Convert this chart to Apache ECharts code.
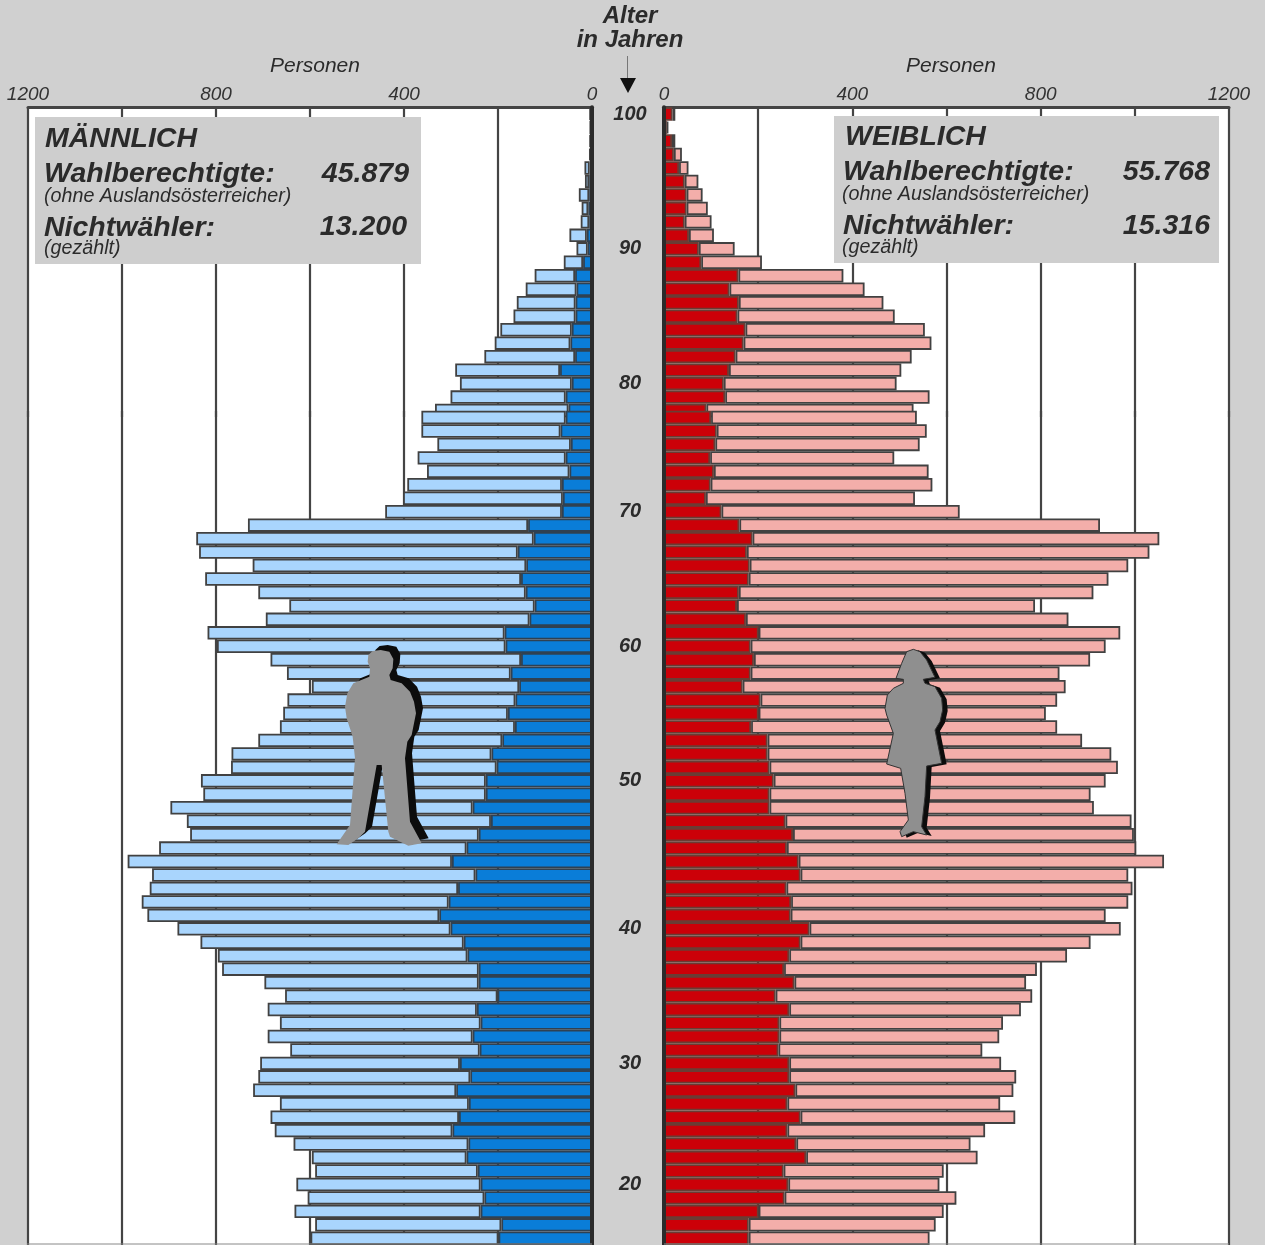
<!DOCTYPE html>
<html>
<head>
<meta charset="utf-8">
<title>Nichtwähler nach Alter</title>
<script src="https://cdn.jsdelivr.net/npm/echarts@6/dist/echarts.min.js"></script>
<style>
html, body { margin: 0; padding: 0; background: #d0d0d0; overflow: hidden; }
#chart { width: 1265px; height: 1245px; }
</style>
</head>
<body>
<div id="chart"></div>
<script>
// rows run from the top of the pyramid down, one row per bar
var maleEligible = [5,4,5,6,16,15,28,22,24,48,33,60,122,141,160,167,195,207,229,291,281,301,334,
	363,363,329,371,351,393,402,440,732,842,836,722,823,710,644,694,818,798,684,649,596,648,657,664,710,767,768,832,827,897,862,
	855,921,988,936,941,958,946,882,833,796,787,697,653,690,664,690,642,706,710,721,664,684,675,635,596,589,629,605,633,589,599];
var maleNonVoters = [3,3,3,3,5,6,6,8,6,11,9,19,36,33,35,35,43,46,36,68,43,56,50,
	56,67,45,56,48,64,62,64,136,124,158,140,151,141,122,133,186,184,151,173,155,163,179,164,191,214,203,226,226,254,215,
	241,267,298,248,285,305,325,301,273,265,241,241,201,245,237,254,239,281,259,289,262,283,297,263,267,243,237,229,237,193,199];
var femaleEligible = [24,9,24,38,52,73,82,93,101,106,150,208,381,426,466,490,554,568,526,504,494,564,530,
	537,558,543,489,562,570,533,628,926,1052,1031,986,944,912,788,859,969,938,905,840,853,835,811,835,888,950,964,938,906,913,993,
	998,1003,1062,986,995,986,938,970,906,856,792,769,782,758,720,712,676,716,748,742,714,746,682,651,666,594,585,621,594,577,564];
var femaleNonVoters = [18,6,17,21,32,44,48,48,44,53,74,79,158,139,159,156,173,169,152,138,127,130,90,
	100,112,109,98,106,99,89,122,160,188,176,182,180,159,155,174,201,184,191,184,167,205,201,185,220,220,224,233,224,224,258,
	274,261,286,290,260,270,269,309,290,266,255,277,237,266,245,245,243,266,266,279,262,290,262,281,302,254,264,256,201,180,180];

var tickRows = [0, 10, 20, 30, 40, 50, 61, 71, 80];
var tickAges = ['100', '90', '80', '70', '60', '50', '40', '30', '20'];

var rowLabels = [];
for (var r = 0; r < maleEligible.length; r++) {
	var t = tickRows.indexOf(r);
	rowLabels.push(t >= 0 ? tickAges[t] : '');
}

// the picture has a splice after the 23rd row, so the rows sit on two grids
var splitRow = 23;
var FONT = '"Liberation Sans", Arial, sans-serif';
var INK = '#2b2b2b';
var LINE = '#444';

var panels = [
	{ left: 28, width: 564, inverse: true, all: maleEligible, dark: maleNonVoters, darkColor: '#0a7dd8', lightColor: '#a9d5fd', darkBorder: '#2f4152', labels: false },
	{ left: 664, width: 565, inverse: false, all: femaleEligible, dark: femaleNonVoters, darkColor: '#cc0008', lightColor: '#f3aeaa', darkBorder: '#6a3c34', labels: true }
];
var bands = [
	{ top: 107.3, height: 310, from: 0, to: splitRow, first: true },
	{ top: 410.8, height: 836, from: splitRow, to: maleEligible.length, first: false }
];

var grids = [], xAxes = [], yAxes = [], series = [];
panels.forEach(function(p) {
	bands.forEach(function(b) {
		var i = grids.length;
		grids.push({ left: p.left, width: p.width, top: b.top, height: b.height, show: true, backgroundColor: '#fff', borderWidth: 0 });
		xAxes.push({
			gridIndex: i, type: 'value', min: 0, max: 1200, interval: 200, inverse: p.inverse, position: 'top',
			axisLine: { show: b.first, lineStyle: { color: LINE, width: 3 } },
			axisTick: { show: false },
			axisLabel: {
				show: b.first, margin: 3, fontFamily: FONT, fontStyle: 'italic', fontSize: 19, color: '#333',
				formatter: function(v) { return v % 400 === 0 ? v : ''; }
			},
			splitLine: { show: true, lineStyle: { color: LINE, width: 2.2 } }
		});
		yAxes.push({
			gridIndex: i, type: 'category', inverse: true, data: rowLabels.slice(b.from, b.to),
			axisLine: { show: true, onZero: true, lineStyle: { color: '#2b2b2b', width: 4 } },
			axisTick: { show: false },
			axisLabel: {
				show: p.labels, interval: 0, margin: 34, align: 'center', fontFamily: FONT,
				fontStyle: 'italic', fontWeight: 'bold', fontSize: 20, color: INK, padding: [2, 0, 0, 0]
			},
			z: 5
		});
		var light = p.all.slice(b.from, b.to).map(function(v, k) { return v - p.dark[b.from + k]; });
		series.push({
			type: 'bar', xAxisIndex: i, yAxisIndex: i, stack: 'row' + i, barWidth: '100%',
			data: p.dark.slice(b.from, b.to), silent: true,
			itemStyle: { color: p.darkColor, borderColor: p.darkBorder, borderWidth: 1.8 }
		});
		series.push({
			type: 'bar', xAxisIndex: i, yAxisIndex: i, stack: 'row' + i, barWidth: '100%',
			data: light, silent: true,
			itemStyle: { color: p.lightColor, borderColor: '#414141', borderWidth: 1.8 }
		});
	});
});

function label(text, x, y, size, weight, align) {
	return {
		type: 'text', z: 12, x: x, y: y,
		style: {
			text: text, fill: INK, align: align || 'left', verticalAlign: 'middle',
			font: 'italic ' + (weight || 'normal') + ' ' + size + 'px ' + FONT
		}
	};
}

function box(x, y, w, h) {
	return { type: 'rect', z: 10, shape: { x: x, y: y, width: w, height: h }, style: { fill: '#cecece' } };
}

// outlines, at three times their drawn size
var manOutline = [[115,60],[128,48],[152,45],[178,50],[190,72],[188,100],[178,120],[182,135],[215,145],[240,170],[252,200],[258,235],[245,300],[232,320],[225,370],[240,560],[275,625],[235,632],[180,605],[175,590],[155,390],[140,390],[105,590],[85,610],[55,630],[20,628],[60,570],[75,370],[68,305],[50,250],[45,215],[52,175],[70,145],[118,125],[120,100],[113,80]];
var womanOutline = [[110,35],[130,28],[150,35],[170,60],[195,112],[160,118],[165,130],[195,140],[215,175],[218,210],[210,245],[195,270],[215,370],[170,378],[165,470],[155,560],[170,585],[130,575],[95,590],[90,575],[115,540],[105,460],[92,385],[50,372],[70,280],[50,225],[45,205],[52,165],[70,145],[100,130],[100,118],[78,115],[95,70]];

function figure(points, x, y, fill, z, stroke) {
	return {
		type: 'polygon', z: z, x: x, y: y, scaleX: 1 / 3, scaleY: 1 / 3,
		shape: { points: points },
		style: { fill: fill, stroke: stroke || null, lineWidth: stroke ? 3 : 0 }
	};
}

var graphics = [
	box(35, 117, 386, 147),
	box(834, 116, 385, 147),
	label('MÄNNLICH', 45, 139, 28.5, 'bold'),
	label('Wahlberechtigte:', 44, 174, 28.5, 'bold'),
	label('45.879', 409, 174, 28.5, 'bold', 'right'),
	label('(ohne Auslandsösterreicher)', 44, 197, 19.7),
	label('Nichtwähler:', 44, 228, 28.5, 'bold'),
	label('13.200', 407, 227, 28.5, 'bold', 'right'),
	label('(gezählt)', 44, 249, 19.7),
	label('WEIBLICH', 845, 137, 28.5, 'bold'),
	label('Wahlberechtigte:', 843, 172, 28.5, 'bold'),
	label('55.768', 1210, 172, 28.5, 'bold', 'right'),
	label('(ohne Auslandsösterreicher)', 842, 195, 19.7),
	label('Nichtwähler:', 843, 226, 28.5, 'bold'),
	label('15.316', 1210, 226, 28.5, 'bold', 'right'),
	label('(gezählt)', 842, 248, 19.7),
	label('Alter', 630, 16, 24, 'bold', 'center'),
	label('in Jahren', 630, 40, 24, 'bold', 'center'),
	label('Personen', 315, 66, 21, 'normal', 'center'),
	label('Personen', 951, 66, 21, 'normal', 'center'),
	{ type: 'line', z: 12, shape: { x1: 627.5, y1: 56, x2: 627.5, y2: 78 }, style: { stroke: '#777', lineWidth: 1 } },
	{ type: 'polygon', z: 12, shape: { points: [[620, 78], [636, 78], [628, 93]] }, style: { fill: '#111' } },
	{ type: 'line', z: 12, shape: { x1: 27, y1: 1244, x2: 592, y2: 1244 }, style: { stroke: '#888', lineWidth: 1 } },
	{ type: 'line', z: 12, shape: { x1: 664, y1: 1244, x2: 1229, y2: 1244 }, style: { stroke: '#888', lineWidth: 1 } },
	figure(manOutline, 337, 630, '#0c0c0c', 13),
	figure(manOutline, 330, 635, '#939393', 14),
	figure(womanOutline, 875, 641, '#0c0c0c', 13),
	figure(womanOutline, 870, 640, '#8f8f8f', 14, '#333')
];

var chart = echarts.init(document.getElementById('chart'));
chart.setOption({
	animation: false,
	backgroundColor: '#d0d0d0',
	textStyle: { fontFamily: FONT },
	grid: grids,
	xAxis: xAxes,
	yAxis: yAxes,
	series: series,
	graphic: graphics
});
</script>
</body>
</html>
